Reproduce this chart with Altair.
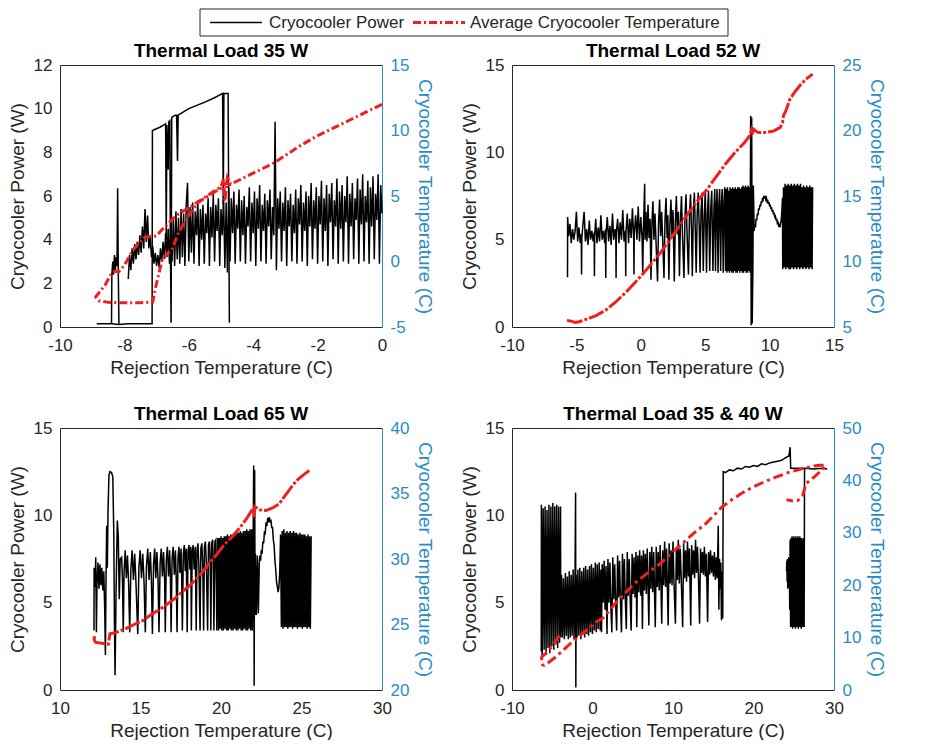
import altair as alt
import pandas as pd

FONT = "Liberation Sans"
DARK = "#262626"
BLUE = "#2a8cc5"
RED = "#f01e1e"

LEGEND_LABELS = ["Cryocooler Power", "Average Cryocooler Temperature"]
X_TITLE = "Rejection Temperature (C)"
P_TITLE = "Cryocooler Power (W)"
T_TITLE = "Cryocooler Temperature (C)"
PANEL_TITLES = ["Thermal Load 35 W", "Thermal Load 52 W", "Thermal Load 65 W", "Thermal Load 35 & 40 W"]

# axis domains / ticks
P1_X = [-10, 0]; P1_X_TICKS = [-10, -8, -6, -4, -2, 0]
P1_P = [0, 12]; P1_P_TICKS = [0, 2, 4, 6, 8, 10, 12]
P1_T = [-5, 15]; P1_T_TICKS = [-5, 0, 5, 10, 15]
P2_X = [-10, 15]; P2_X_TICKS = [-10, -5, 0, 5, 10, 15]
P2_P = [0, 15]; P2_P_TICKS = [0, 5, 10, 15]
P2_T = [5, 25]; P2_T_TICKS = [5, 10, 15, 20, 25]
P3_X = [10, 30]; P3_X_TICKS = [10, 15, 20, 25, 30]
P3_P = [0, 15]; P3_P_TICKS = [0, 5, 10, 15]
P3_T = [20, 40]; P3_T_TICKS = [20, 25, 30, 35, 40]
P4_X = [-10, 30]; P4_X_TICKS = [-10, 0, 10, 20, 30]
P4_P = [0, 15]; P4_P_TICKS = [0, 5, 10, 15]
P4_T = [0, 50]; P4_T_TICKS = [0, 10, 20, 30, 40, 50]

# ---------------- Panel 1 : 35 W ----------------
P1_HIGH = [(-8.86,0.15),(-8.40,0.15),(-8.17,0.12),(-7.88,0.15),(-7.14,0.15),(-7.13,9.0),(-6.90,9.15),(-6.72,9.3),
           (-6.70,4.0),(-6.68,9.25),(-6.64,7.2),(-6.62,9.4),(-6.59,9.45),(-6.57,3.5),(-6.55,0.2),(-6.53,9.6),
           (-6.48,9.65),(-6.42,9.7),(-6.38,9.7),(-6.35,7.6),(-6.33,9.7),(-6.0,10.0),(-5.5,10.3),(-5.2,10.5),
           (-4.95,10.7),(-4.93,5.6),(-4.91,10.7),(-4.78,10.7),(-4.74,0.2)]
P1_SPIKES = [(-8.40,0.15),(-8.39,2.4),(-8.36,3.0),(-8.34,2.4),(-8.31,3.3),(-8.28,2.6),(-8.25,3.2),(-8.23,2.8),
             (-8.21,6.35),(-8.19,2.5),(-8.17,0.12)]
P1_NOISE = [(-7.88,2.2),(-7.84,3.3),(-7.80,2.6),(-7.76,3.6),(-7.72,2.9),(-7.68,3.8),(-7.64,3.1),(-7.60,3.9),
            (-7.56,3.3),(-7.52,4.2),(-7.48,3.4),(-7.44,4.6),(-7.40,3.6),(-7.36,5.4),(-7.32,3.9),(-7.28,5.1),
            (-7.24,3.6),(-7.20,4.2),(-7.16,3.2),(-7.12,3.7),(-7.08,2.9),(-7.04,3.4),(-7.00,2.8),(-6.96,3.3),
            (-6.92,2.7),(-6.88,3.6),(-6.84,3.0),(-6.80,3.9),(-6.76,3.1),(-6.72,4.3),(-6.68,3.2),(-6.64,4.5),
            (-6.60,2.9),(-6.56,4.8),(-6.52,3.0),(-6.48,5.0),(-6.44,2.8),(-6.40,5.3),(-6.36,3.1),(-6.32,5.0),
            (-6.28,2.9),(-6.24,5.4),(-6.20,3.2),(-6.16,5.2),(-6.12,2.8),(-6.08,5.6),(-6.04,6.6),(-6.00,3.0),
            (-5.96,5.5),(-5.92,3.4),(-5.88,5.7),(-5.84,2.9),(-5.80,5.3),(-5.76,4.2),(-5.72,5.8),(-5.68,2.8),
            (-5.64,5.4),(-5.60,4.0),(-5.56,5.6),(-5.52,2.9),(-5.48,5.2),(-5.44,4.3),(-5.40,5.9),(-5.36,2.8),
            (-5.32,5.5),(-5.28,4.1),(-5.24,6.1),(-5.20,3.0),(-5.16,5.6),(-5.12,4.4),(-5.08,5.9),(-5.04,2.8),
            (-5.00,5.4),(-4.96,4.2),(-4.92,6.0),(-4.88,2.7),(-4.84,5.7),(-4.80,2.5),(-4.76,6.4),(-4.72,3.0),
            (-4.68,5.9),(-4.64,4.3),(-4.60,6.2),(-4.56,2.9),(-4.52,5.6),(-4.48,4.5),(-4.44,6.3),(-4.40,3.0),
            (-4.36,5.8),(-4.32,4.2),(-4.28,6.0),(-4.24,2.9),(-4.20,5.5),(-4.16,4.6),(-4.12,6.4),(-4.08,3.0),
            (-4.04,5.7),(-4.00,4.3),(-3.96,6.2),(-3.92,2.8),(-3.88,5.9),(-3.84,4.5),(-3.80,6.5),(-3.76,3.0),
            (-3.72,5.6),(-3.68,4.4),(-3.64,6.1),(-3.60,2.9),(-3.56,5.8),(-3.52,4.6),(-3.48,6.3),(-3.44,3.1),
            (-3.40,5.5),(-3.36,4.2),(-3.32,9.4),(-3.28,2.6),(-3.24,5.9),(-3.20,4.5),(-3.16,6.2),(-3.12,3.0),
            (-3.08,5.7),(-3.04,4.4),(-3.00,6.4),(-2.96,2.8),(-2.92,5.8),(-2.88,4.6),(-2.84,6.1),(-2.80,3.0),
            (-2.76,5.6),(-2.72,4.3),(-2.68,6.3),(-2.64,2.9),(-2.60,5.9),(-2.56,4.7),(-2.52,6.5),(-2.48,3.0),
            (-2.44,5.7),(-2.40,4.4),(-2.36,6.2),(-2.32,2.8),(-2.28,6.0),(-2.24,4.6),(-2.20,6.6),(-2.16,3.1),
            (-2.12,5.8),(-2.08,4.5),(-2.04,6.4),(-2.00,2.9),(-1.96,6.0),(-1.92,4.7),(-1.88,6.7),(-1.84,3.0),
            (-1.80,5.9),(-1.76,4.4),(-1.72,6.5),(-1.68,2.8),(-1.64,6.1),(-1.60,4.8),(-1.56,6.6),(-1.52,3.1),
            (-1.48,5.8),(-1.44,4.6),(-1.40,6.8),(-1.36,2.9),(-1.32,6.2),(-1.28,4.5),(-1.24,6.5),(-1.20,3.0),
            (-1.16,6.0),(-1.12,4.8),(-1.08,6.9),(-1.04,2.9),(-1.00,6.1),(-0.96,4.6),(-0.92,6.6),(-0.88,3.1),
            (-0.84,5.9),(-0.80,4.9),(-0.76,6.8),(-0.72,2.9),(-0.68,6.3),(-0.64,4.7),(-0.60,7.0),(-0.56,3.0),
            (-0.52,6.0),(-0.48,4.8),(-0.44,6.7),(-0.40,2.9),(-0.36,6.4),(-0.32,4.6),(-0.28,6.9),(-0.24,3.1),
            (-0.20,6.1),(-0.16,4.9),(-0.12,7.0),(-0.08,2.9),(-0.04,6.5),(0.00,5.2)]
P1_TEMP = [(0.0,12.0),(-0.5,11.4),(-1.0,10.8),(-1.5,10.2),(-2.0,9.6),(-2.5,8.9),(-3.0,8.1),(-3.3,7.6),(-3.7,7.1),
           (-4.2,6.5),(-4.7,5.9),(-4.8,6.4),(-4.88,4.6),(-4.92,6.3),(-5.0,5.7),(-5.2,5.4),(-5.5,4.9),(-5.9,4.26),
           (-6.4,3.5),(-6.9,2.25),(-7.0,1.95),(-7.37,1.85),(-7.73,0.9),(-8.0,-0.3),(-8.18,-0.8),(-8.3,-0.75),
           (-8.39,-0.85),(-8.6,-1.8),(-8.89,-2.7),(-8.79,-3.0),(-8.5,-3.12),(-8.0,-3.15),(-7.5,-3.15),(-7.12,-3.1),
           (-7.02,-1.85),(-6.82,0.19),(-6.52,0.95),(-6.32,2.2),(-6.01,3.5),(-5.71,4.5),(-5.4,5.0),(-5.0,5.6),
           (-4.85,6.0),(-4.7,5.8)]

# ---------------- Panel 2 : 52 W ----------------
P2_START = [(-5.69,2.85),(-5.68,6.3),(-5.6,5.2),(-5.5,5.9),(-5.4,4.8),(-5.3,5.6),(-5.2,5.0),(-5.1,5.5),(-5.0,6.6),
            (-4.9,4.9),(-4.8,5.7),(-4.7,4.8),(-4.62,5.3),(-4.60,3.0),(-4.58,5.1),(-4.5,5.8),(-4.4,6.6),(-4.3,4.9),
            (-4.2,5.6),(-4.1,4.7),(-4.0,6.1),(-3.9,5.0),(-3.8,5.5),(-3.7,4.9),(-3.62,5.4),(-3.60,2.9),(-3.58,5.2),
            (-3.5,6.2),(-3.4,4.8),(-3.3,5.7),(-3.2,4.9),(-3.1,6.4),(-3.0,5.0),(-2.9,5.5),(-2.8,4.8),(-2.74,5.6),
            (-2.72,2.8),(-2.70,5.3),(-2.6,6.3),(-2.5,4.9),(-2.4,5.8),(-2.3,4.7),(-2.2,6.5),(-2.1,5.0),(-2.0,5.6),
            (-1.94,5.2),(-1.92,2.8),(-1.90,5.4),(-1.8,6.2),(-1.7,4.8),(-1.6,6.0),(-1.5,5.0),(-1.4,6.7),(-1.3,4.9),
            (-1.19,5.5),(-1.17,2.9),(-1.15,5.4),(-1.05,6.5),(-0.95,4.8),(-0.85,6.2),(-0.75,5.1),(-0.65,6.8),
            (-0.55,5.0),(-0.53,3.0),(-0.51,5.3),(-0.4,6.4),(-0.3,5.0),(-0.2,6.9),(-0.1,4.9),(0.0,6.3),(0.1,5.1),
            (0.15,3.1),(0.2,5.5),(0.3,8.2),(0.33,5.0)]
P2_MID = [(0.40,6.6),(0.48,4.9),(0.56,7.0),(0.64,5.1),(0.72,6.2),(0.79,2.7),(0.86,5.8),(0.94,7.2),(1.02,5.0),
          (1.10,6.5),(1.18,4.9),(1.30,2.6),(1.38,6.0),(1.46,7.3),(1.54,5.2),(1.62,6.6),(1.70,5.0),(1.80,2.8),
          (1.88,6.2),(1.96,7.4),(2.04,5.1),(2.10,6.4),(2.18,2.7),(2.26,5.9),(2.34,7.3),(2.42,5.2),(2.50,6.7),
          (2.60,2.6),(2.68,6.0),(2.76,7.5),(2.84,5.3),(2.92,6.6),(3.00,2.9),(3.08,6.1),(3.16,7.5),(3.24,5.2),
          (3.35,2.8),(3.43,6.3),(3.51,7.6),(3.59,5.4),(3.70,3.0),(3.78,6.4),(3.86,7.6),(3.94,5.5),(4.00,2.9),
          (4.08,6.6),(4.16,7.7),(4.24,5.3),(4.30,3.1),(4.38,6.5),(4.46,7.7),(4.54,5.6),(4.60,3.1),(4.68,6.7),
          (4.76,7.7),(4.85,3.2),(4.93,6.4),(5.01,7.8),(5.10,3.1),(5.18,6.6),(5.26,7.8),(5.35,3.2),(5.43,6.8),
          (5.51,7.8),(5.60,3.2),(5.68,6.7),(5.74,7.9),(5.80,3.2),(5.86,6.9),(5.92,7.9),(6.00,3.1),(6.06,7.0),
          (6.12,7.9),(6.20,3.2),(6.26,7.1),(6.32,7.9),(6.40,3.1),(6.46,7.2),(6.52,8.0),(6.58,3.2)]
P2_DENSE = [(6.63,7.9),(6.68,3.1),(6.73,8.0),(6.78,3.2),(6.83,7.8),(6.88,3.1),(6.93,8.0),(6.98,3.2),(7.03,7.9),
            (7.08,3.1),(7.13,8.0),(7.18,3.1),(7.23,7.9),(7.28,3.2),(7.33,8.0),(7.38,3.1),(7.43,7.9),(7.48,3.1),
            (7.53,8.0),(7.58,3.2),(7.63,8.0),(7.68,3.1),(7.73,7.9),(7.78,3.2),(7.83,8.0),(7.88,3.1),(7.93,8.1),
            (7.98,3.1),(8.03,8.0),(8.08,3.2),(8.13,8.1),(8.18,3.1),(8.23,8.0),(8.28,3.1),(8.33,8.1),(8.38,3.2),
            (8.43,8.0),(8.48,3.1),(8.53,12.1),(8.57,0.1),(8.61,12.0),(8.65,0.2),(8.70,3.2),(8.74,8.1)]
P2_HUMP = [(8.80,5.5),(8.85,5.9),(8.90,5.7),(8.95,6.2),(9.00,6.1),(9.05,6.5),(9.10,6.4),(9.15,6.8),(9.20,6.7),
           (9.25,7.0),(9.30,6.9),(9.35,7.2),(9.40,7.1),(9.45,7.4),(9.50,7.3),(9.55,7.5),(9.60,7.35),(9.65,7.5),
           (9.70,7.3),(9.75,7.4),(9.80,7.2),(9.85,7.3),(9.90,7.05),(9.95,7.15),(10.00,6.9),(10.05,7.0),
           (10.10,6.75),(10.15,6.85),(10.20,6.6),(10.25,6.7),(10.30,6.45),(10.35,6.55),(10.40,6.3),(10.45,6.35),
           (10.50,6.1),(10.55,6.2),(10.60,5.95),(10.65,6.0),(10.70,5.8),(10.75,5.85),(10.80,5.7),(10.85,5.9),
           (10.90,6.1),(10.95,6.6),(11.00,7.4),(11.02,3.3)]
P2_TAIL = [(11.08,8.0),(11.14,3.4),(11.20,8.2),(11.26,3.3),(11.32,8.1),(11.38,3.4),(11.44,8.2),(11.50,3.3),
           (11.56,8.1),(11.62,3.3),(11.68,8.2),(11.74,3.4),(11.80,8.1),(11.86,3.3),(11.92,8.2),(11.98,3.4),
           (12.04,8.1),(12.10,3.3),(12.16,8.2),(12.22,3.4),(12.28,8.1),(12.34,3.3),(12.40,8.2),(12.46,3.4),
           (12.52,8.0),(12.58,3.3),(12.64,8.1),(12.70,3.4),(12.76,8.0),(12.82,3.3),(12.88,8.1),(12.94,3.4),
           (13.00,8.0),(13.06,3.3),(13.12,8.1),(13.18,3.4),(13.24,8.0),(13.30,3.3),(13.34,8.0)]
P2_TEMP = [(-5.73,5.5),(-5.4,5.45),(-5.1,5.35),(-4.8,5.4),(-4.2,5.6),(-3.47,5.87),(-2.7,6.3),(-1.97,6.89),
           (-1.0,7.8),(0.04,8.92),(0.8,9.8),(1.55,10.7),(2.5,12.0),(3.55,13.5),(4.3,14.5),(5.06,15.4),(5.8,16.4),
           (6.57,17.44),(7.3,18.3),(8.07,19.1),(8.45,19.6),(8.58,20.0),(8.65,19.7),(8.75,20.1),(9.07,19.86),
           (9.6,19.85),(10.3,19.95),(10.83,20.24),(11.0,20.6),(11.08,21.13),(11.3,21.6),(11.58,22.4),(12.0,23.0),
           (12.34,23.42),(12.8,23.9),(13.34,24.3)]

# ---------------- Panel 3 : 65 W ----------------
P3_START = [(12.11,3.4),(12.12,7.0),(12.18,5.9),(12.22,7.6),(12.26,3.3),(12.30,6.2),(12.36,7.3),(12.42,5.8),
            (12.48,7.2),(12.54,6.0),(12.60,7.0),(12.66,5.7),(12.72,6.8),(12.78,4.5),(12.82,2.0),(12.86,6.5),
            (12.90,9.4),(12.94,7.0),(12.98,10.1),(13.04,12.3),(13.10,12.5),(13.20,12.45),(13.28,12.2),
            (13.34,9.0),(13.38,4.0),(13.42,0.85),(13.48,5.5),(13.56,9.7),(13.62,8.8),(13.68,5.2),(13.74,7.5)]
P3_BAND = [(13.83,7.6),(13.88,6.3),(13.93,3.3),(13.98,6.8),(14.05,8.0),(14.12,6.4),(14.19,7.7),(14.26,6.2),
           (14.33,3.3),(14.40,6.9),(14.48,8.0),(14.56,6.3),(14.64,7.8),(14.72,6.1),(14.83,3.2),(14.90,7.0),
           (14.98,8.0),(15.06,6.4),(15.14,7.8),(15.22,6.2),(15.30,3.3),(15.37,7.1),(15.45,8.1),(15.53,6.3),
           (15.61,7.9),(15.68,6.2),(15.74,3.2),(15.81,7.2),(15.88,8.1),(15.95,6.4),(16.02,7.9),(16.09,6.3),
           (16.15,3.3),(16.22,7.3),(16.29,8.1),(16.36,6.5),(16.43,7.9),(16.50,6.3),(16.54,3.3),(16.60,7.4),
           (16.67,8.2),(16.74,6.5),(16.81,8.0),(16.86,6.4),(16.90,3.3),(16.96,7.5),(17.03,8.2),(17.10,6.6),
           (17.17,8.0),(17.22,6.4),(17.27,3.3),(17.33,7.6),(17.39,8.2),(17.45,6.7),(17.52,8.1),(17.56,6.4),
           (17.60,3.4),(17.66,7.8),(17.72,8.3),(17.78,6.8),(17.84,8.1),(17.90,3.3),(17.95,7.9),(18.01,8.3),
           (18.07,6.9),(18.12,8.2),(18.16,3.4),(18.21,7.9),(18.27,8.3),(18.33,6.9),(18.40,8.2),(18.46,3.4),
           (18.51,8.0),(18.57,8.4),(18.63,7.0),(18.70,3.4),(18.75,8.1),(18.81,8.4),(18.87,7.1),(18.92,3.4),
           (18.97,8.2),(19.03,8.5),(19.09,7.2),(19.17,3.4),(19.22,8.3),(19.28,8.5),(19.33,7.3),(19.37,3.4),
           (19.42,8.4),(19.48,8.6),(19.52,7.4),(19.56,3.4),(19.62,8.5),(19.68,8.6),(19.74,3.4),(19.80,8.7)]
P3_BLOCK = [(19.85,3.4),(19.90,8.7),(19.95,3.5),(20.00,8.8),(20.05,3.4),(20.10,8.7),(20.15,3.4),(20.20,8.8),
            (20.25,3.5),(20.30,8.8),(20.35,3.4),(20.40,8.9),(20.45,3.4),(20.50,8.8),(20.55,3.5),(20.60,8.9),
            (20.65,3.4),(20.70,8.9),(20.75,3.4),(20.80,9.0),(20.85,3.5),(20.90,8.9),(20.95,3.4),(21.00,9.0),
            (21.05,3.4),(21.10,9.0),(21.15,3.5),(21.20,9.1),(21.25,3.4),(21.30,9.0),(21.35,3.4),(21.40,9.1),
            (21.45,3.5),(21.50,9.1),(21.55,3.4),(21.60,9.2),(21.65,3.4),(21.70,9.1),(21.75,3.5),(21.80,9.2),
            (21.85,3.4),(21.90,9.2),(21.95,3.4),(22.00,9.1),(22.03,12.85),(22.06,0.25),(22.09,12.6),(22.12,4.3)]
P3_HUMP = [(22.14,7.8),(22.20,4.3),(22.26,7.7),(22.32,4.4),(22.38,7.3),(22.42,7.7),(22.46,7.4),(22.50,7.9),
           (22.55,7.8),(22.60,8.5),(22.65,8.4),(22.70,9.1),(22.75,9.0),(22.80,9.6),(22.85,9.4),(22.90,9.85),
           (22.95,9.6),(23.00,9.9),(23.05,9.6),(23.10,9.75),(23.15,9.3),(23.20,9.3),(23.25,8.6),(23.30,8.3),
           (23.35,7.4),(23.40,6.9),(23.45,6.2),(23.50,5.9),(23.55,5.6),(23.60,5.9),(23.65,6.8),(23.70,8.9)]
P3_TAIL = [(23.75,3.6),(23.80,9.1),(23.85,3.5),(23.90,9.2),(23.95,3.6),(24.00,9.0),(24.05,3.6),(24.10,9.1),
           (24.15,3.5),(24.20,9.0),(24.25,3.6),(24.30,9.1),(24.35,3.6),(24.40,9.0),(24.45,3.5),(24.50,9.1),
           (24.55,3.6),(24.60,9.0),(24.65,3.6),(24.70,9.0),(24.75,3.5),(24.80,8.9),(24.85,3.6),(24.90,9.0),
           (24.95,3.6),(25.00,8.9),(25.05,3.5),(25.10,8.9),(25.15,3.6),(25.20,8.9),(25.25,3.6),(25.30,8.8),
           (25.35,3.5),(25.40,8.9),(25.45,3.6),(25.50,8.8),(25.55,3.5),(25.60,8.8)]
P3_TEMP = [(12.15,24.1),(12.12,23.85),(12.2,23.65),(12.4,23.6),(12.7,23.55),(13.0,23.5),(13.05,23.9),(13.1,24.3),
           (13.5,24.4),(14.13,24.7),(14.6,25.0),(15.14,25.3),(15.6,25.7),(16.14,26.1),(16.6,26.5),(17.15,27.0),
           (17.6,27.5),(18.16,28.1),(18.7,28.8),(19.17,29.5),(19.7,30.3),(20.17,31.05),(20.7,31.7),(21.18,32.4),
           (21.6,33.1),(21.98,33.84),(22.05,33.2),(22.1,34.0),(22.4,33.75),(22.79,33.7),(23.2,33.9),(23.6,34.2),
           (23.9,34.7),(24.2,35.2),(24.5,35.7),(24.8,36.1),(25.2,36.5),(25.51,36.77)]

# ---------------- Panel 4 : 35 & 40 W ----------------
P4_START = [(-6.37,2.2),(-6.35,10.6),(-6.25,1.9),(-6.13,10.4),(-6.01,2.3),(-5.89,10.5),(-5.77,2.0),(-5.65,10.3),
            (-5.53,2.4),(-5.41,10.6),(-5.29,2.1),(-5.17,10.5),(-5.05,2.5),(-4.93,10.7),(-4.81,2.3),(-4.69,10.5),
            (-4.57,2.6),(-4.45,10.6),(-4.33,2.4),(-4.21,10.5),(-4.09,2.7),(-3.97,10.5),(-3.95,3.0)]
P4_BAND = [(-3.85,6.6),(-3.73,3.0),(-3.61,6.4),(-3.49,2.9),(-3.37,6.7),(-3.25,3.1),(-3.13,6.5),(-3.01,2.9),
           (-2.89,6.8),(-2.77,3.0),(-2.65,6.6),(-2.53,3.1),(-2.41,6.9),(-2.29,2.9),(-2.17,6.7),(-2.10,11.3),
           (-2.07,0.15),(-2.03,6.6),(-1.93,3.0),(-1.81,6.9),(-1.69,3.1),(-1.57,7.0),(-1.45,2.9),(-1.33,6.8),
           (-1.21,3.2),(-1.09,7.0),(-0.97,3.0),(-0.85,7.1),(-0.73,3.2),(-0.61,6.9),(-0.49,3.1),(-0.37,7.1),
           (-0.25,3.3),(-0.13,7.2),(-0.01,3.2),(0.11,7.0),(0.23,3.4),(0.35,7.3),(0.47,3.3),(0.59,7.2),
           (0.71,3.5),(0.83,7.3),(0.95,3.4)]
P4_RISE = [(1.05,6.9),(1.12,3.3),(1.2,7.2),(1.32,5.0),(1.44,7.4),(1.56,4.6),(1.68,7.1),(1.8,3.2),(1.92,7.5),
           (2.04,5.0),(2.16,7.3),(2.28,4.8),(2.4,3.3),(2.52,7.6),(2.64,5.2),(2.76,7.2),(2.88,4.9),(3.0,3.4),
           (3.12,7.7),(3.24,5.3),(3.36,7.4),(3.48,5.0),(3.6,3.3),(3.72,7.8),(3.84,5.2),(3.96,7.5),(4.08,5.1),
           (4.2,3.5),(4.32,7.9),(4.44,5.4),(4.56,7.5),(4.68,5.2),(4.8,3.4),(4.92,7.8),(5.04,5.5),(5.16,7.6),
           (5.28,5.3),(5.4,7.9),(5.5,3.6),(5.62,7.7),(5.74,5.6),(5.86,8.0),(5.98,5.4),(6.1,7.7),(6.2,3.5),
           (6.32,8.0),(6.44,5.7),(6.56,7.8),(6.68,5.5),(6.8,8.1),(7.0,3.7),(7.12,7.9),(7.24,5.8),(7.36,8.2),
           (7.48,5.6),(7.6,7.9),(7.8,3.6),(7.92,8.2),(8.04,5.9),(8.16,7.9),(8.28,5.7),(8.4,8.3),(8.6,3.8),
           (8.72,8.0),(8.84,6.0),(8.96,8.5),(9.08,5.9),(9.2,8.1),(9.4,3.7),(9.52,8.4),(9.64,6.1),(9.76,8.0),
           (9.88,6.0),(10.0,8.5),(10.12,6.2),(10.3,3.8),(10.42,8.2),(10.54,6.3),(10.66,8.6),(10.78,6.1),
           (10.9,8.1),(11.02,6.4),(11.2,3.6),(11.32,8.4),(11.44,6.4),(11.56,8.0),(11.68,6.2),(11.8,8.5),
           (11.92,6.5),(12.04,8.1),(12.2,3.7),(12.32,8.3),(12.44,6.6),(12.56,8.0),(12.68,6.4),(12.8,8.6),
           (12.92,6.7),(13.04,8.2),(13.16,6.5),(13.3,3.8),(13.42,8.1),(13.54,6.7),(13.66,7.9),(13.78,6.6),
           (13.9,8.2),(14.02,6.5),(14.14,7.8),(14.3,3.9),(14.42,7.9),(14.54,6.6),(14.66,8.0),(14.78,6.7),
           (14.9,7.7),(15.02,6.5),(15.14,7.9),(15.26,6.3),(15.38,7.6),(15.5,6.4),(15.62,9.4),(15.7,4.6),
           (15.78,7.5),(15.86,5.8),(15.94,7.3),(16.02,4.0),(16.1,6.8),(16.18,4.1)]
P4_HIGH = [(16.24,12.5),(16.5,12.45),(17.0,12.6),(17.5,12.55),(18.0,12.7),(18.5,12.65),(19.0,12.8),(19.5,12.75),
           (20.0,12.85),(20.5,12.8),(21.0,12.95),(21.5,12.9),(22.0,13.0),(22.5,13.05),(23.0,13.1),(23.5,13.15),
           (24.0,13.3),(24.4,13.4),(24.55,13.9),(24.62,12.7),(25.5,12.7),(26.3,12.7),(27.5,12.65),(28.5,12.7),
           (29.15,12.65)]
P4_BLOCK = [(24.10,6.8),(24.14,7.4),(24.18,6.2),(24.22,7.5),(24.26,5.8),(24.30,7.3),(24.34,6.1),(24.38,7.6),
            (24.42,5.9),(24.46,7.2),(24.50,4.6),(24.55,8.6),(24.61,3.6),(24.67,8.7),(24.73,3.6),(24.79,8.8),
            (24.85,3.5),(24.91,8.7),(24.97,3.6),(25.03,8.8),(25.09,3.6),(25.15,8.7),(25.21,3.5),(25.27,8.8),
            (25.33,3.6),(25.39,8.7),(25.45,3.6),(25.51,8.8),(25.57,3.5),(25.63,8.7),(25.69,3.6),(25.75,8.8),
            (25.81,3.6),(25.87,8.7),(25.93,3.5),(25.99,8.7),(26.05,3.6),(26.11,8.6),(26.17,3.6),(26.23,8.7),
            (26.29,3.6),(26.34,12.7)]
P4_TEMP = [(-4.1,10.4),(-4.6,9.3),(-5.2,8.0),(-5.8,7.0),(-6.3,6.3),(-6.35,5.3),(-6.2,4.8),(-6.0,4.7),(-5.5,5.2),
           (-4.5,6.4),(-3.68,7.57),(-2.66,9.0),(-1.66,10.2),(0.36,12.9),(1.36,13.8),(2.77,16.4),(4.0,18.4),
           (5.19,20.3),(6.8,22.3),(8.4,24.1),(9.4,25.5),(10.6,27.2),(11.63,28.6),(12.8,30.2),(14.05,31.7),
           (15.0,33.2),(16.06,34.9),(17.3,36.3),(18.48,37.5),(19.9,38.7),(21.3,39.7),(22.9,40.7),(24.52,41.6),
           (26.0,42.2),(27.3,42.7),(28.2,42.9),(28.95,42.9),(28.7,42.3),(27.5,40.6),(26.53,39.4),(26.13,37.2),
           (25.53,36.2),(24.8,36.1),(24.1,36.3)]

PW, PH = 322, 262


def frame(segments):
    rows = []
    for s, seg in enumerate(segments):
        for i, (x, y) in enumerate(seg):
            rows.append({"x": x, "y": y, "seg": s, "ord": i})
    return pd.DataFrame(rows)


def panel(title, segs, temp, xdom, xt, pdom, pt, tdom, tt, dash):
    xs = alt.Scale(domain=xdom, nice=False, zero=False)
    power = alt.Chart(frame(segs)).mark_line(color="black", strokeWidth=1.5).encode(
        x=alt.X("x:Q", scale=xs, axis=alt.Axis(orient="bottom", values=xt, title=X_TITLE,
                                               labelExpr="datum.value + ''", labelPadding=10, titlePadding=5)),
        y=alt.Y("y:Q", scale=alt.Scale(domain=pdom, nice=False, zero=False),
                axis=alt.Axis(orient="left", values=pt, title=P_TITLE, labelExpr="datum.value + ''",
                              labelPadding=8, titlePadding=6)),
        detail="seg:N", order="ord:Q")
    tline = alt.Chart(frame([temp])).mark_line(color=RED, strokeWidth=3, strokeDash=dash).encode(
        x=alt.X("x:Q", scale=xs, axis=alt.Axis(orient="top", labels=False, ticks=False, title=None)),
        y=alt.Y("y:Q", scale=alt.Scale(domain=tdom, nice=False, zero=False),
                axis=alt.Axis(orient="right", values=tt, title=T_TITLE, labelExpr="datum.value + ''",
                              labelColor=BLUE, titleColor=BLUE, domainColor=BLUE, labelPadding=8,
                              titlePadding=6)),
        order="ord:Q")
    return alt.layer(power, tline).resolve_scale(y="independent").resolve_axis(x="independent").properties(
        width=PW, height=PH, title=alt.TitleParams(text=title, offset=-5))


p1 = panel(PANEL_TITLES[0], [P1_HIGH, P1_SPIKES, P1_NOISE], P1_TEMP, P1_X, P1_X_TICKS, P1_P, P1_P_TICKS,
           P1_T, P1_T_TICKS, [8, 3, 2, 3])
p2 = panel(PANEL_TITLES[1], [P2_START + P2_MID + P2_DENSE + P2_HUMP + P2_TAIL], P2_TEMP, P2_X, P2_X_TICKS,
           P2_P, P2_P_TICKS, P2_T, P2_T_TICKS, [16, 2, 3, 2])
p3 = panel(PANEL_TITLES[2], [P3_START + P3_BAND + P3_BLOCK + P3_HUMP + P3_TAIL], P3_TEMP, P3_X, P3_X_TICKS,
           P3_P, P3_P_TICKS, P3_T, P3_T_TICKS, [16, 2, 3, 2])
p4 = panel(PANEL_TITLES[3], [P4_START + P4_BAND + P4_RISE + P4_HIGH, P4_BLOCK], P4_TEMP, P4_X, P4_X_TICKS,
           P4_P, P4_P_TICKS, P4_T, P4_T_TICKS, [10, 4, 3, 4])

# legend (drawn as its own small view above the panels; its origin lines up with the plot areas)
one = pd.DataFrame({"k": [0]})
LX, LW, LH = 140, 528, 27
box = alt.Chart(one).mark_rect(fillOpacity=0, stroke=DARK, strokeWidth=1).encode(
    x=alt.value(LX), x2=alt.value(LX + LW), y=alt.value(0), y2=alt.value(LH))
l1 = alt.Chart(one).mark_rule(color="black", strokeWidth=1.3).encode(
    x=alt.value(LX + 10), x2=alt.value(LX + 62), y=alt.value(LH / 2))
t1 = alt.Chart(one).mark_text(text=LEGEND_LABELS[0], align="left", baseline="middle", fontSize=17,
                              font=FONT, color=DARK).encode(x=alt.value(LX + 69), y=alt.value(LH / 2))
l2 = alt.Chart(one).mark_rule(color=RED, strokeWidth=3, strokeDash=[8, 3, 2, 3]).encode(
    x=alt.value(LX + 213), x2=alt.value(LX + 265), y=alt.value(LH / 2))
t2 = alt.Chart(one).mark_text(text=LEGEND_LABELS[1], align="left", baseline="middle", fontSize=17,
                              font=FONT, color=DARK).encode(x=alt.value(LX + 270), y=alt.value(LH / 2))
legend = alt.layer(box, l1, t1, l2, t2).properties(width=740, height=LH)

grid = alt.vconcat(alt.hconcat(p1, p2, spacing=26), alt.hconcat(p3, p4, spacing=26), spacing=28)
chart = alt.vconcat(legend, grid, spacing=5).properties(
    padding={"left": 0, "top": 0, "right": 5, "bottom": 0}
).configure_view(strokeWidth=0).configure_axis(
    labelFont=FONT, titleFont=FONT, labelFontSize=17, titleFontSize=19, titleFontWeight="normal",
    labelColor=DARK, titleColor=DARK, domainColor=DARK, domainWidth=1, ticks=False, grid=False,
    labelFlush=False
).configure_title(font=FONT, fontSize=19, fontWeight="bold", color="black", anchor="middle")

chart.save("out.html", embed_options={"renderer": "svg", "actions": False})
